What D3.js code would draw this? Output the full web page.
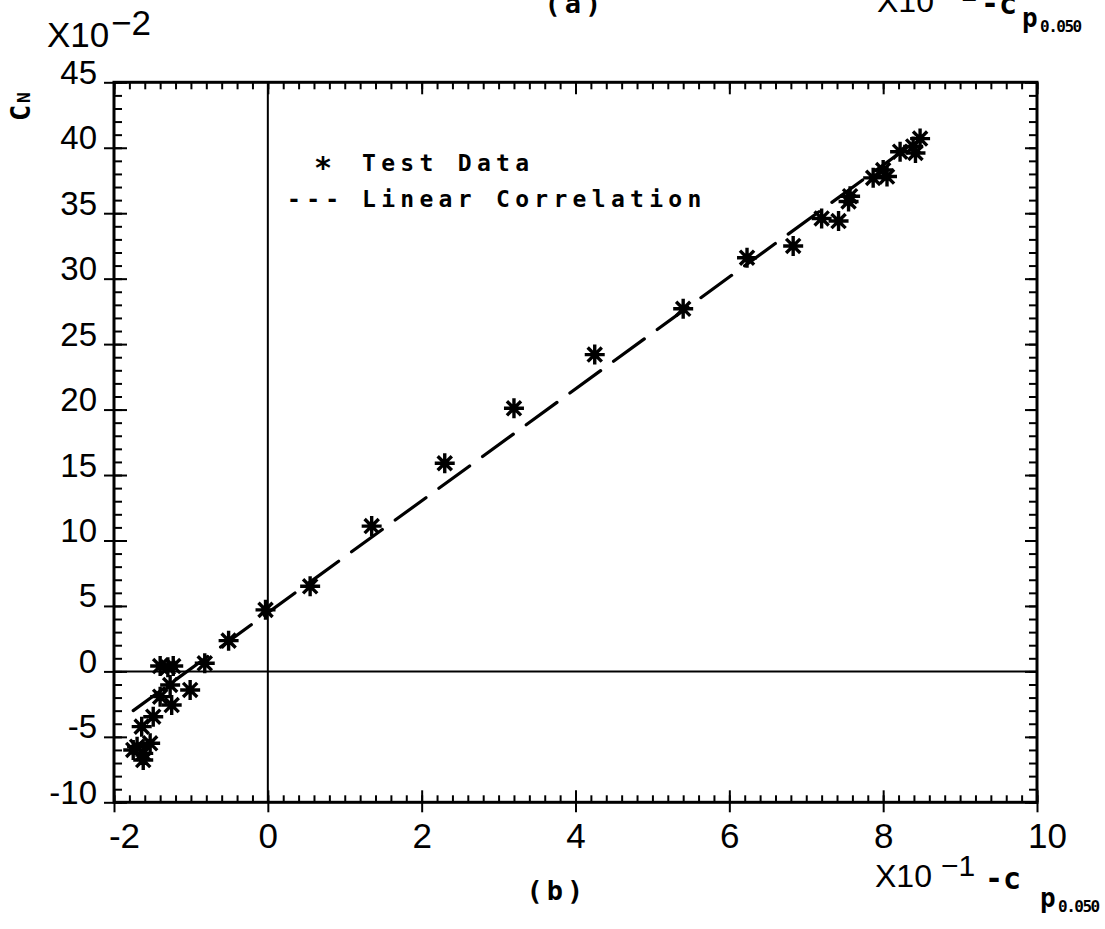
<!DOCTYPE html>
<html>
<head>
<meta charset="utf-8">
<script src="https://cdn.jsdelivr.net/npm/d3@7"></script>
<style>
  html, body { margin: 0; padding: 0; background: #fff; }
  svg { display: block; }
</style>
</head>
<body>
<svg id="chart" width="1105" height="929"></svg>
<script>
// Normal-force coefficient C_N (x10^-2) against -Cp at 0.050 (x10^-1)
const testX = [-0.03, -0.51, -0.82, -1.01, -1.40, -1.30, -1.23, -1.27, -1.25, -1.40, -1.49,
               -1.64, -1.70, -1.62, -1.53, -1.62, -1.75,
               0.55, 1.35, 2.30, 3.20, 4.25, 5.40, 6.23, 6.83, 7.20, 7.42, 7.57, 7.55,
               7.87, 8.00, 8.05, 8.22, 8.39, 8.48, 8.42];
const testY = [4.70, 2.35, 0.62, -1.42, 0.41, 0.31, 0.41, -1.04, -2.57, -1.93, -3.46,
               -4.22, -5.75, -6.26, -5.49, -6.77, -6.00,
               6.50, 11.10, 15.90, 20.10, 24.20, 27.70, 31.60, 32.50, 34.60, 34.40, 36.30, 35.90,
               37.70, 38.30, 37.80, 39.70, 40.10, 40.70, 39.60];

// Linear correlation, drawn between its two end points
const fitX = [-1.75, 8.45];
const fitY = [-3.0, 40.6];

const xTickValues = [-2, 0, 2, 4, 6, 8, 10];
const xTickLabels = ["-2", "0", "2", "4", "6", "8", "10"];
const yTickValues = [-10, -5, 0, 5, 10, 15, 20, 25, 30, 35, 40, 45];
const yTickLabels = ["-10", "-5", "0", "5", "10", "15", "20", "25", "30", "35", "40", "45"];
const legendLabels = ["Test Data", "Linear Correlation"];

const svg = d3.select("#chart");
const plotL = 114, plotR = 1037, plotT = 82.3, plotB = 802.3;

const x = d3.scaleLinear().domain([-2, 10]).range([plotL, plotR]);
const y = d3.scaleLinear().domain([-10, 45]).range([plotB, plotT]);

const numFont = "'Liberation Sans', Arial, sans-serif";
const monoFont = "'DejaVu Sans Mono', 'Liberation Mono', monospace";

// tick marks built with d3 axes (domain path removed, frame drawn separately)
function ticks(axisFn, scale, values, size, tx, ty, width) {
  svg.append("g")
    .attr("transform", `translate(${tx},${ty})`)
    .call(axisFn(scale).tickValues(values).tickSize(size).tickFormat(""))
    .call(g => g.select(".domain").remove())
    .selectAll("line")
    .attr("stroke", "#000")
    .attr("stroke-width", width);
}

const xMinor = d3.range(-20, 101, 2).map(v => v / 10);
const yMinor = d3.range(-10, 46, 1);

// bottom
ticks(d3.axisBottom, x, xMinor, -7, 0, plotB, 2);
ticks(d3.axisBottom, x, xTickValues, -12, 0, plotB, 2);
ticks(d3.axisBottom, x, xTickValues, 10, 0, plotB, 2);
// top
ticks(d3.axisTop, x, xMinor, -7, 0, plotT, 2);
ticks(d3.axisTop, x, xTickValues, -12, 0, plotT, 2);
// left
ticks(d3.axisLeft, y, yMinor, -8, plotL, 0, 2);
ticks(d3.axisLeft, y, yTickValues, -13, plotL, 0, 2);
ticks(d3.axisLeft, y, yTickValues, 10, plotL, 0, 2);
// right
ticks(d3.axisRight, y, yMinor, -8, plotR, 0, 2);
ticks(d3.axisRight, y, yTickValues, -12, plotR, 0, 2);

// frame
svg.append("rect")
  .attr("x", plotL).attr("y", plotT)
  .attr("width", plotR - plotL).attr("height", plotB - plotT)
  .attr("fill", "none").attr("stroke", "#000").attr("stroke-width", 3);

// zero lines
svg.append("line")
  .attr("x1", x(0)).attr("x2", x(0)).attr("y1", plotT).attr("y2", plotB)
  .attr("stroke", "#000").attr("stroke-width", 2);
svg.append("line")
  .attr("x1", plotL).attr("x2", plotR).attr("y1", y(0)).attr("y2", y(0))
  .attr("stroke", "#000").attr("stroke-width", 2);

// tick labels
svg.append("g")
  .attr("transform", `translate(0,${plotB})`)
  .call(d3.axisBottom(x).tickValues(xTickValues).tickSize(0)
        .tickFormat((d, i) => xTickLabels[i]))
  .call(g => g.select(".domain").remove())
  .selectAll("text")
  .attr("y", 46).attr("dy", null)
  .attr("dx", (d, i) => xTickLabels[i].length > 1 ? 10 : 0)
  .attr("font-family", numFont).attr("font-size", 35).attr("fill", "#000");

svg.append("g")
  .attr("transform", `translate(${plotL},0)`)
  .call(d3.axisLeft(y).tickValues(yTickValues).tickSize(0)
        .tickFormat((d, i) => yTickLabels[i]))
  .call(g => g.select(".domain").remove())
  .selectAll("text")
  .attr("x", -17).attr("y", 1).attr("dy", null)
  .attr("font-family", numFont).attr("font-size", 33).attr("fill", "#000");

// linear correlation
const fitLine = d3.line().x(d => x(d[0])).y(d => y(d[1]));
svg.append("path")
  .datum(fitX.map((v, i) => [v, fitY[i]]))
  .attr("d", fitLine)
  .attr("fill", "none").attr("stroke", "#000")
  .attr("stroke-width", 3.2)
  .attr("stroke-dasharray", "38,16")
  .attr("stroke-linecap", "round");

// eight-armed star marker
const starSymbol = {
  draw(ctx, size) {
    const r = Math.sqrt(size) / 2;
    const d = r * Math.SQRT1_2;
    ctx.moveTo(-r, 0); ctx.lineTo(r, 0);
    ctx.moveTo(0, -r); ctx.lineTo(0, r);
    ctx.moveTo(-d, -d); ctx.lineTo(d, d);
    ctx.moveTo(-d, d); ctx.lineTo(d, -d);
  }
};
const star = d3.symbol().type(starSymbol).size(20 * 20);

svg.append("g")
  .selectAll("path")
  .data(testX.map((v, i) => [v, testY[i]]))
  .join("path")
  .attr("transform", d => `translate(${x(d[0])},${y(d[1])})`)
  .attr("d", star)
  .attr("fill", "none").attr("stroke", "#000").attr("stroke-width", 3.4);

// legend
const legend = svg.append("g")
  .attr("font-family", monoFont).attr("font-size", 23).attr("font-weight", "bold")
  .attr("letter-spacing", 5.3).attr("fill", "#000");
legend.append("text").attr("x", 314).attr("y", 178)
  .attr("font-size", 30).text("*");
legend.append("text").attr("x", 362).attr("y", 171).text(legendLabels[0]);
legend.append("text").attr("x", 287).attr("y", 207).text("---");
legend.append("text").attr("x", 362).attr("y", 207).text(legendLabels[1]);

// y multiplier and title
svg.append("text").attr("x", 47).attr("y", 47)
  .attr("font-family", numFont).attr("font-size", 35).text("X10");
svg.append("text").attr("x", 111).attr("y", 35)
  .attr("font-family", numFont).attr("font-size", 35).text("\u22122");

const yTitle = svg.append("g").attr("transform", "translate(30,121) rotate(-90)")
  .attr("font-family", monoFont).attr("font-weight", "bold").attr("fill", "#000");
yTitle.append("text").attr("x", 0).attr("y", 0).attr("font-size", 27).text("C");
yTitle.append("text").attr("x", 18).attr("y", 0).attr("font-size", 18).text("N");

// x multiplier and title
function xTitle(ox, oy, cShift, pShift, drop) {
  const g = svg.append("g").attr("transform", `translate(${ox},${oy})`).attr("fill", "#000");
  g.append("text").attr("x", 0).attr("y", 0)
    .attr("font-family", numFont).attr("font-size", 32).text("X10");
  g.append("text").attr("x", 66).attr("y", -11)
    .attr("font-family", numFont).attr("font-size", 30).text("\u22121");
  g.append("text").attr("x", 110 + cShift).attr("y", 2)
    .attr("font-family", monoFont).attr("font-weight", "bold").attr("font-size", 30).text("-c");
  g.append("text").attr("x", 165 + pShift).attr("y", drop)
    .attr("font-family", monoFont).attr("font-weight", "bold").attr("font-size", 26).text("p");
  g.append("text").attr("x", 183 + pShift).attr("y", drop + 5)
    .attr("font-family", monoFont).attr("font-weight", "bold").attr("font-size", 16)
    .attr("letter-spacing", -1.5).text("0.050");
}
xTitle(875, 887, 0, 0, 20);
xTitle(877, 12, -6, -20, 15);

// panel labels
svg.append("text").attr("x", 557).attr("y", 900).attr("text-anchor", "middle")
  .attr("font-family", monoFont).attr("font-weight", "bold").attr("font-size", 27)
  .attr("letter-spacing", 4).text("(b)");
svg.append("text").attr("x", 575).attr("y", 13).attr("text-anchor", "middle")
  .attr("font-family", monoFont).attr("font-weight", "bold").attr("font-size", 27)
  .attr("letter-spacing", 4).text("(a)");
</script>
</body>
</html>
